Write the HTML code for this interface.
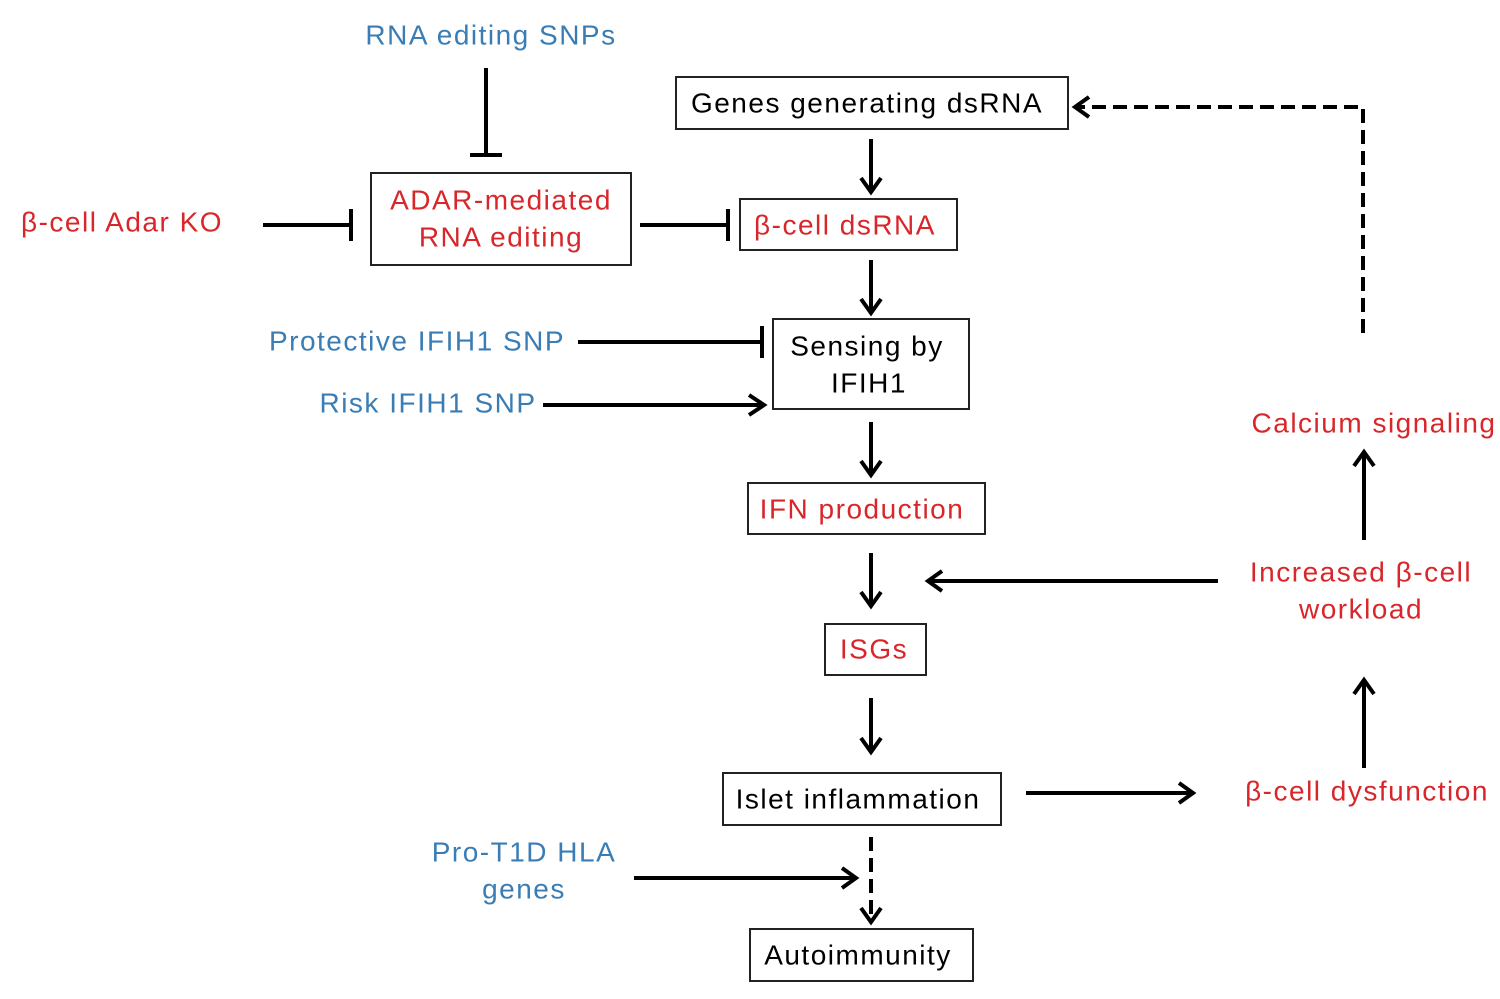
<!DOCTYPE html>
<html><head><style>
html,body{margin:0;padding:0;background:#fff;}
svg{display:block;}
text{font-family:"Liberation Sans",sans-serif;font-size:28px;text-anchor:middle;dominant-baseline:central;letter-spacing:1.5px;}
.r{fill:#d8262a;}
.b{fill:#3a7db5;}
.k{fill:#000;}
rect{fill:#fff;stroke:#222;stroke-width:2;}
.l{stroke:#000;stroke-width:4;fill:none;}
.d{stroke:#000;stroke-width:4;fill:none;stroke-dasharray:14,7;}
.h{stroke:#000;stroke-width:4;fill:none;stroke-linejoin:miter;}
</style></head><body>
<svg width="1500" height="999" viewBox="0 0 1500 999">
<rect x="676" y="77" width="392" height="52"/>
<rect x="371" y="173" width="260" height="92"/>
<rect x="740" y="199" width="217" height="51"/>
<rect x="773" y="319" width="196" height="90"/>
<rect x="748" y="483" width="237" height="51"/>
<rect x="825" y="624" width="101" height="51"/>
<rect x="723" y="773" width="278" height="52"/>
<rect x="750" y="929" width="223" height="52"/>

<text class="b" x="491" y="35">RNA editing SNPs</text>
<text class="k" x="867" y="103">Genes generating dsRNA</text>
<text class="r" x="122" y="222">β-cell Adar KO</text>
<text class="r" x="501" y="200">ADAR-mediated</text>
<text class="r" x="501" y="237">RNA editing</text>
<text class="r" x="845" y="225">β-cell dsRNA</text>
<text class="b" x="417" y="341">Protective IFIH1 SNP</text>
<text class="b" x="428" y="403">Risk IFIH1 SNP</text>
<text class="k" x="867" y="346">Sensing by</text>
<text class="k" x="869" y="383">IFIH1</text>
<text class="r" x="862" y="509">IFN production</text>
<text class="r" x="874" y="649">ISGs</text>
<text class="k" x="858" y="799">Islet inflammation</text>
<text class="k" x="858" y="955">Autoimmunity</text>
<text class="b" x="524" y="852">Pro-T1D HLA</text>
<text class="b" x="524" y="889">genes</text>
<text class="r" x="1374" y="423">Calcium signaling</text>
<text class="r" x="1361" y="572">Increased β-cell</text>
<text class="r" x="1361" y="609">workload</text>
<text class="r" x="1367" y="791">β-cell dysfunction</text>

<path class="l" d="M486 68V155M470 155H502"/>
<path class="l" d="M263 225H351M351 209V241"/>
<path class="l" d="M640 225H728M728 209V241"/>
<path class="l" d="M578 342H762M762 326V358"/>

<path class="l" d="M871 139V190"/><path class="h" d="M861 178L871 192L881 178"/>
<path class="l" d="M871 260V311"/><path class="h" d="M861 299L871 313L881 299"/>
<path class="l" d="M543 405H762"/><path class="h" d="M749 395L764 405L749 415"/>
<path class="l" d="M871 422V473"/><path class="h" d="M861 461L871 475L881 461"/>
<path class="l" d="M871 553V604"/><path class="h" d="M861 592L871 606L881 592"/>
<path class="l" d="M871 698V750"/><path class="h" d="M861 738L871 752L881 738"/>
<path class="l" d="M1026 793H1191"/><path class="h" d="M1179 783L1193 793L1179 803"/>
<path class="d" d="M871 837V920"/><path class="h" d="M861 908L871 922L881 908"/>
<path class="l" d="M634 878H854"/><path class="h" d="M842 868L856 878L842 888"/>
<path class="l" d="M1364 768V682"/><path class="h" d="M1354 694L1364 680L1374 694"/>
<path class="l" d="M1218 581H930"/><path class="h" d="M942 571L928 581L942 591"/>
<path class="l" d="M1364 540V454"/><path class="h" d="M1354 466L1364 452L1374 466"/>
<path class="d" d="M1363 333V107H1077"/><path class="h" d="M1089 97L1075 107L1089 117"/>
</svg>
</body></html>
